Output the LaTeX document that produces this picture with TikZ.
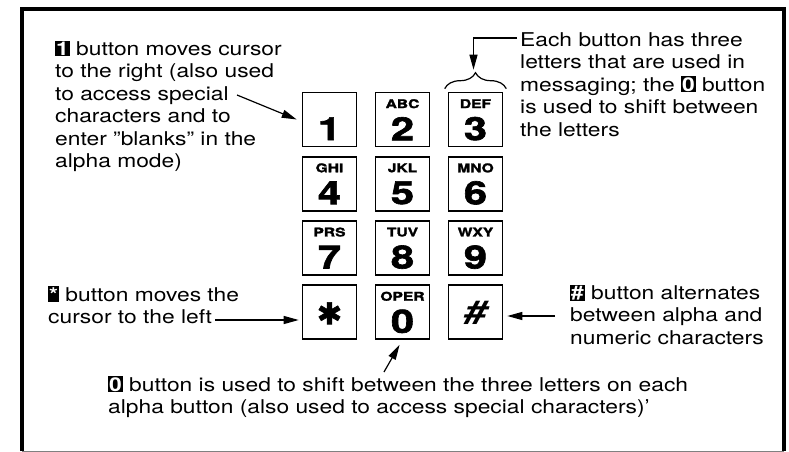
\documentclass[tikz,border=0pt]{standalone}
\usepackage{fontspec}
\setmainfont[FakeStretch=1.2]{TeX Gyre Heros}
\newfontfamily\keyfont[FakeStretch=1.3, BoldFeatures={FakeBold=2}]{TeX Gyre Heros}
\newfontfamily\symfont[FakeBold=2]{DejaVu Sans}
\usetikzlibrary{arrows.meta, positioning, decorations.pathreplacing}

\newcommand{\badge}[1]{{\setlength{\fboxsep}{1pt}\colorbox{black}{\textcolor{white}{\bfseries #1}}}}

\begin{document}
\begin{tikzpicture}[x=1pt, y=-1pt,
    key/.style={draw, line width=1.6pt, minimum width=54pt, minimum height=54pt, inner sep=0pt},
    digit/.style={font=\keyfont\bfseries\fontsize{32}{32}\selectfont, inner sep=0pt},
    abc/.style={font=\keyfont\bfseries\fontsize{12}{12}\selectfont, inner sep=0pt},
    txt/.style={align=left, anchor=base west, inner sep=0pt, font=\fontsize{19}{22.5}\selectfont},
    arr/.style={-{Triangle[length=15pt, width=8pt]}, line width=1.2pt},
    frame/.style={line width=3.5pt},
  ]
  \useasboundingbox (0,0) rectangle (789,452);

  % frame
  \coordinate (tl) at (22,9);
  \coordinate (tr) at (784,9);
  \coordinate (br) at (784,451);
  \coordinate (bl) at (22,451);
  \draw[frame] (bl) -- (tl) -- (tr) -- (br);
  \draw[gray, line width=1pt] (bl) -- (br);

  % keypad
  \foreach \nm/\c/\r/\sym/\abc/\dy in {1/0/0/1//37, 2/1/0/2/ABC/37, 3/2/0/3/DEF/37,
      4/0/1/4/GHI/37, 5/1/1/5/JKL/37, 6/2/1/6/MNO/37,
      7/0/2/7/PRS/37, 8/1/2/8/TUV/37, 9/2/2/9/WXY/37,
      star/0/3/{\symfont\fontsize{30}{30}\selectfont ✱}//29, 0/1/3/0/OPER/37, hash/2/3/{\itshape\#}//29} {
    \node[key] (k\nm) at (329.5+73*\c, 119.5+64.2*\r) {};
    \node[abc] (a\nm) at ([yshift=-12pt]k\nm.north) {\abc};
    \node[digit] (d\nm) at ([yshift=-\dy pt]k\nm.north) {\sym};
  }

  % texts (anchored at the baseline of their last line)
  \node[txt] (t1) at (55,167.5) {\badge{1} button moves cursor\\to the right (also used\\to access special\\characters and to\\enter "blanks" in the\\alpha mode)};
  \node[txt] (t3) at (520,136) {Each button has three\\letters that are used in\\messaging; the \badge{0} button\\is used to shift between\\the letters};
  \node[txt] (tstar) at (48,323.5) {\badge{\vphantom{1}*} button moves the\\cursor to the left};
  \node[txt] (thash) at (570,344) {\badge{\#} button alternates\\between alpha and\\numeric characters};
  \node[txt] (t0) at (108,413.5) {\badge{0} button is used to shift between the three letters on each\\alpha button (also used to access special characters)’};

  % arrows
  \coordinate (c1) at (237,95);
  \draw[arr] (c1) -- ([xshift=-5pt]k1.west);
  \coordinate (cstar) at (215,320);
  \draw[arr, shorten >=3pt] (cstar) -- (cstar -| kstar.west);
  \coordinate (chash) at (555,316);
  \draw[arr, shorten >=4pt] (chash) -- (chash -| khash.east);
  \coordinate (c0) at (384,372);
  \draw[arr] (c0) -- ([xshift=-3pt,yshift=-5pt]k0.south);
  \coordinate (c3) at (517,38);
  \draw[arr] (c3) -| ([xshift=-2pt,yshift=22pt]k3.north);
  \draw[line width=1.2pt, decorate, decoration={brace, amplitude=16pt}]
    ([xshift=-3pt,yshift=3pt]k3.north west) -- ([xshift=3pt,yshift=3pt]k3.north east);
\end{tikzpicture}
\end{document}
